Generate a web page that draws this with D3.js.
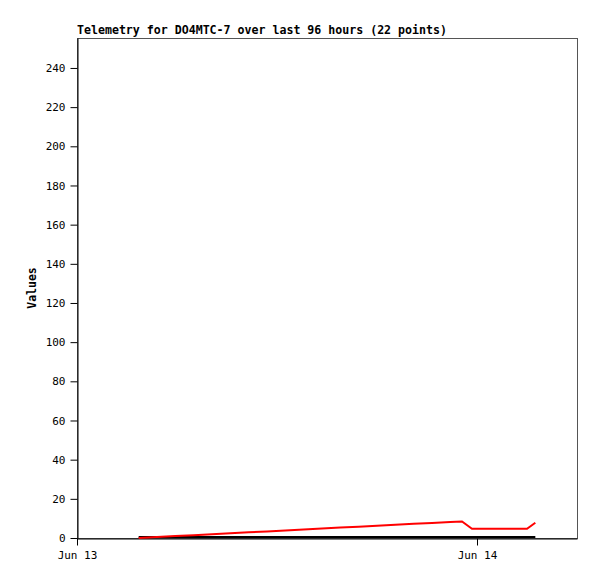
<!DOCTYPE html>
<html><head><meta charset="utf-8">
<script src="https://cdn.jsdelivr.net/npm/d3@7"></script>
<style>body{margin:0;background:#fff}</style>
</head><body>
<svg id="c" width="597" height="579"></svg>
<script>
const title = "Telemetry for DO4MTC-7 over last 96 hours (22 points)";
const yLabel = "Values";
// hours after Jun 13 00:00
const times = [3.7,4.8,5.9,7.0,8.1,9.2,10.3,11.4,12.5,13.6,14.7,15.8,16.9,18.0,19.1,20.2,21.3,22.4,23.1,23.7,27.0,27.5];
const redValues = [0,0.48,0.96,1.45,1.93,2.41,2.89,3.38,3.86,4.34,4.82,5.31,5.79,6.27,6.75,7.24,7.72,8.2,8.4,4.75,4.75,7.8];
const blackValues = [0,0,0,0,0,0,0,0,0,0,0,0,0,0,0,0,0,0,0,0,0,0];
const yTicks = [0,20,40,60,80,100,120,140,160,180,200,220,240];
const xTickHours = [0,24];
const xTickLabels = ["Jun 13","Jun 14"];

const base = new Date(2024,5,13,0,0,0);
const toDate = h => new Date(base.getTime()+h*3600e3);
const L=77,R=577,T=38,B=538;
const svg = d3.select("#c");
const x = d3.scaleTime().domain([toDate(0),toDate(30)]).range([L,R]);
const y = d3.scaleLinear().domain([0,255.3]).range([B,T]);

svg.append("rect").attr("x",L+0.5).attr("y",T+0.5).attr("width",R-L).attr("height",B-T)
  .attr("fill","none").attr("stroke","#555").attr("stroke-width",1);

const font = "'DejaVu Sans Mono', monospace";
const ya = svg.append("g").attr("transform",`translate(${L+0.5},0)`)
  .call(d3.axisLeft(y).tickValues(yTicks).tickSize(7).tickPadding(5).tickSizeOuter(0));
const xa = svg.append("g").attr("transform",`translate(0,${B+0.5})`)
  .call(d3.axisBottom(x).tickValues(xTickHours.map(toDate)).tickFormat((d,i)=>xTickLabels[i]).tickSize(7).tickPadding(6).tickSizeOuter(0));
[ya,xa].forEach(g=>{
  g.select(".domain").attr("stroke","#000");
  g.selectAll("line").attr("stroke","#000");
  g.selectAll("text").attr("fill","#000").style("font-family",font).style("font-size","11px");
});

const pts = times.map((t,i)=>({t:toDate(t),r:redValues[i],b:blackValues[i]}));
svg.append("path").datum(pts).attr("fill","none").attr("stroke","#000").attr("stroke-width",2)
  .attr("d",d3.line().x(d=>x(d.t)).y(d=>y(d.b)-1));
svg.append("path").datum(pts).attr("fill","none").attr("stroke","#f00").attr("stroke-width",2)
  .attr("d",d3.line().x(d=>x(d.t)).y(d=>y(d.r)));

svg.append("text").attr("x",L).attr("y",34).text(title)
  .style("font-family",font).style("font-size","11.6px").style("font-weight","bold");
svg.append("text").attr("transform",`translate(36,${(T+B)/2}) rotate(-90)`).attr("text-anchor","middle")
  .text(yLabel).style("font-family",font).style("font-size","11.5px").style("font-weight","bold");
</script>
</body></html>
